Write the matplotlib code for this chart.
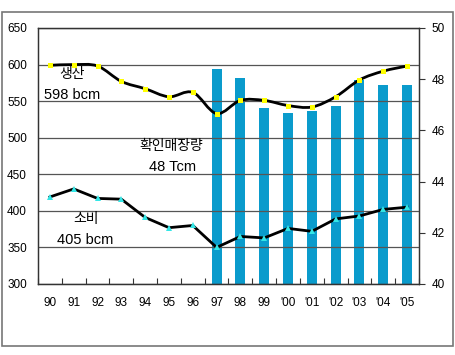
import matplotlib

matplotlib.use("Agg")
import matplotlib.pyplot as plt
import numpy as np
from matplotlib.patches import PathPatch, Rectangle
from matplotlib.path import Path

plt.rcParams["font.family"] = ["Liberation Sans", "DejaVu Sans"]
KR_FONT = ["Noto Sans CJK KR", "DejaVu Sans"]

YEARS = ["90", "91", "92", "93", "94", "95", "96", "97",
         "98", "99", "'00", "'01", "'02", "'03", "'04", "'05"]

# production (bcm, left axis)
PRODUCTION = [599, 600, 598, 577, 567, 556, 562, 533,
              551, 551, 544, 542, 556, 579, 591, 598]
# consumption (bcm, left axis)
CONSUMPTION = [419, 430, 417, 416, 391, 377, 380, 350,
               365, 363, 376, 372, 389, 393, 402, 405]
# proved reserves (Tcm, right axis), only from 97
RESERVE_YEARS = ["97", "98", "99", "'00", "'01", "'02", "'03", "'04", "'05"]
RESERVES = [48.4, 48.05, 46.88, 46.68, 46.77, 46.97, 47.97, 47.77, 47.77]

BAR_COLOR = "#0A9BCC"


def smooth_path(x, y, tension=1 / 6):
    """Catmull-Rom style cubic Bezier path through the data points."""
    x = np.asarray(x, float)
    y = np.asarray(y, float)
    verts = [(x[0], y[0])]
    codes = [Path.MOVETO]
    n = len(x)
    for i in range(n - 1):
        x0, y0 = (x[i - 1], y[i - 1]) if i > 0 else (x[i], y[i])
        x3, y3 = (x[i + 2], y[i + 2]) if i + 2 < n else (x[i + 1], y[i + 1])
        c1 = (x[i] + (x[i + 1] - x0) * tension, y[i] + (y[i + 1] - y0) * tension)
        c2 = (x[i + 1] - (x3 - x[i]) * tension, y[i + 1] - (y3 - y[i]) * tension)
        verts += [c1, c2, (x[i + 1], y[i + 1])]
        codes += [Path.CURVE4] * 3
    return Path(verts, codes)


fig = plt.figure(figsize=(4.56, 3.55), dpi=100)
fig.patches.append(Rectangle((2 / 456, 9 / 355), 451 / 456, 334 / 355,
                             transform=fig.transFigure, fill=False,
                             edgecolor="#777777", linewidth=1.2))

ax = fig.add_axes([38 / 456, 71 / 355, 381 / 456, 256 / 355])
ax2 = ax.twinx()
ax.set_zorder(ax2.get_zorder() + 1)
ax.patch.set_visible(False)

x = np.arange(len(YEARS))
bar_x = [YEARS.index(y) for y in RESERVE_YEARS]
ax2.bar(bar_x, RESERVES, width=0.42, color=BAR_COLOR, zorder=2)
ax2.set_ylim(40, 50)
ax2.set_yticks([40, 42, 44, 46, 48, 50])
ax2.tick_params(axis="y", direction="out", length=4, width=0.8,
                labelsize=8.5, pad=5, color="#333333")

ax.set_ylim(300, 650)
ax.set_xlim(-0.5, len(YEARS) - 0.5)
ax.set_yticks(range(300, 651, 50))
ax.tick_params(axis="y", length=0, labelsize=8.5, pad=8)
ax.set_xticks(x)
ax.set_xticklabels(YEARS)
ax.tick_params(axis="x", length=0, labelsize=8.5, pad=9)
ax.set_xticks(np.arange(len(YEARS) + 1) - 0.5, minor=True)
ax.tick_params(axis="x", which="minor", direction="in", length=4,
               width=0.8, color="#333333")
ax.yaxis.grid(True, color="#555555", linewidth=0.9)
ax.set_axisbelow(True)

for a in (ax, ax2):
    for s in a.spines.values():
        s.set_color("#333333")
        s.set_linewidth(0.9)

ax.add_patch(PathPatch(smooth_path(x, PRODUCTION), fill=False,
                       edgecolor="black", linewidth=2, zorder=3))
ax.plot(x, PRODUCTION, linestyle="none", marker="s", markersize=3.6,
        color="#FFFF00", markeredgewidth=0, zorder=4)
ax.plot(x, CONSUMPTION, color="black", linewidth=2, marker="^",
        markersize=4, markerfacecolor="#33E6E6", markeredgewidth=0, zorder=4)

ax.text(0.93, 587, "생산", family=KR_FONT, fontsize=10, ha="center", va="center")
ax.text(0.95, 558, "598 bcm", fontsize=10.5, ha="center", va="center")
ax.text(5.1, 488, "확인매장량", family=KR_FONT, fontsize=10, ha="center", va="center")
ax.text(5.13, 460, "48 Tcm", fontsize=10.5, ha="center", va="center")
ax.text(1.5, 389, "소비", family=KR_FONT, fontsize=10, ha="center", va="center")
ax.text(1.5, 360, "405 bcm", fontsize=10.5, ha="center", va="center")

fig.savefig("out.png", dpi=100)
